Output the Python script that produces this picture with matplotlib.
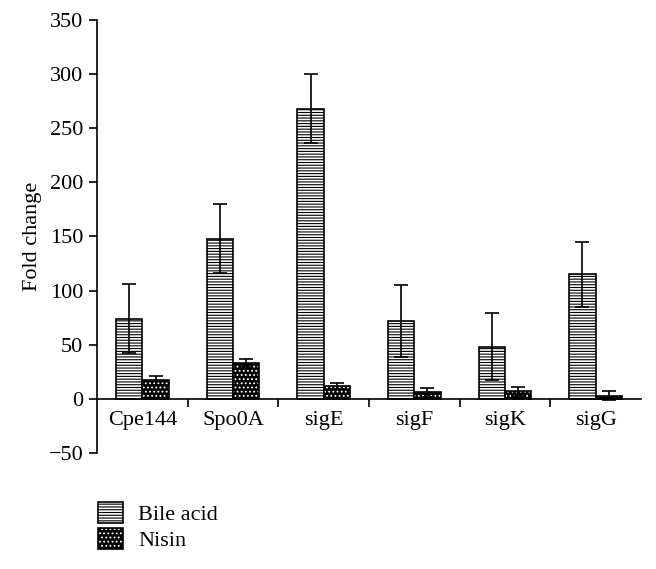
import matplotlib.pyplot as plt
import numpy as np
from matplotlib.patches import Patch
from matplotlib.legend_handler import HandlerTuple

genes = ['Cpe144', 'Spo0A', 'sigE', 'sigF', 'sigK', 'sigG']
bile_acid = [74, 148, 268, 72, 48, 115]
bile_err = [32, 32, 32, 33, 31, 30]
nisin = [17, 33, 12, 6, 7, 3]
nisin_err = [4, 4, 3, 4, 4, 4]

plt.rcParams['font.family'] = ['Liberation Serif', 'DejaVu Serif']
plt.rcParams['hatch.linewidth'] = 0.8

fig = plt.figure(figsize=(6.56, 5.69), dpi=100)
ax = fig.add_axes([0.148, 0.204, 0.829, 0.761])

x = np.arange(len(genes))
w = 0.29

# bile acid: white with dense horizontal lines
ax.bar(x - w / 2, bile_acid, w, color='white', edgecolor='black',
       hatch='------', linewidth=1.2, zorder=2)
ax.errorbar(x - w / 2, bile_acid, yerr=bile_err, fmt='none', ecolor='black',
            elinewidth=1.2, capsize=5, capthick=1.2, zorder=3)

# nisin: black with white dots, black outline on top
ax.bar(x + w / 2, nisin, w, color='black', edgecolor='white',
       hatch='....', linewidth=0, zorder=2)
ax.bar(x + w / 2, nisin, w, fill=False, edgecolor='black', linewidth=1.2, zorder=2)
ax.errorbar(x + w / 2, nisin, yerr=nisin_err, fmt='none', ecolor='black',
            elinewidth=1.2, capsize=5, capthick=1.2, zorder=3)

ax.set_xlim(-0.5, len(genes) - 0.5)
ax.set_ylim(-50, 350)
ax.set_yticks(range(-50, 351, 50))
ax.set_yticklabels([str(v).replace('-', '\u2212') for v in range(-50, 351, 50)])
ax.set_ylabel('Fold change', fontsize=16, labelpad=5)

for s in ['top', 'right']:
    ax.spines[s].set_visible(False)
ax.spines['bottom'].set_position(('data', 0))
ax.spines['left'].set_linewidth(1.2)
ax.spines['bottom'].set_linewidth(1.2)

ax.set_xticks(x[:-1] + 0.5)
ax.set_xticklabels([])
ax.tick_params(axis='x', which='major', direction='out', length=6, width=1.2)
ax.set_xticks(x, minor=True)
ax.set_xticklabels(genes, minor=True, fontsize=16)
ax.tick_params(axis='x', which='minor', length=0, pad=9)
ax.tick_params(axis='y', direction='out', length=6, width=1.2, labelsize=16, pad=4)

h_bile = Patch(facecolor='white', edgecolor='black', hatch='------', linewidth=1.2)
h_nis1 = Patch(facecolor='black', edgecolor='white', hatch='....', linewidth=0)
h_nis2 = Patch(fill=False, edgecolor='black', linewidth=1.2)
fig.legend([h_bile, (h_nis1, h_nis2)], ['Bile acid', 'Nisin'],
           handler_map={tuple: HandlerTuple(ndivide=1, pad=0)},
           loc='upper left', bbox_to_anchor=(0.133, 0.138), frameon=False,
           fontsize=16, handlelength=1.1, handleheight=1.1, labelspacing=0.15,
           handletextpad=0.7, borderpad=0)

fig.savefig('out.png', dpi=100)
